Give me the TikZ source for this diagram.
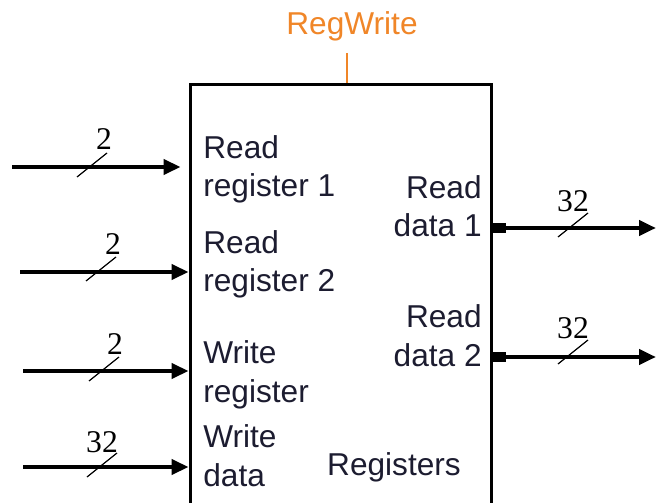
\documentclass[tikz,border=0pt]{standalone}
\usepackage{fontspec}
\setmainfont{Liberation Sans}
\newfontfamily\numfont{Liberation Serif}
\usetikzlibrary{arrows.meta}

\definecolor{regorange}{RGB}{240,134,40}
\definecolor{regtext}{RGB}{28,28,48}

\tikzset{
  bus/.style={line width=2.6pt, -{Triangle[length=0.34cm,width=0.3cm]}},
  outbus/.style={line width=2.6pt, {Rectangle[length=0.26cm,width=0.22cm]}-{Triangle[length=0.34cm,width=0.3cm]}},
  slash/.style={line width=0.7pt},
  buswidth/.style={font=\numfont\fontsize{18}{20}\selectfont, anchor=base, inner sep=0pt},
  port/.style={font=\fontsize{18}{22}\selectfont, text=regtext, inner sep=0pt},
}

\begin{document}
\begin{tikzpicture}[x=0.02cm, y=-0.02cm]
    \useasboundingbox (0,0) rectangle (656,503);

    % Register file (bottom edge runs off the page)
    \node[draw, line width=1.7pt, minimum width=6.04cm, minimum height=9.5cm, inner sep=0pt] (regfile) at (341,322) {};

    % Control signal
    \node[font=\fontsize{18}{22}\selectfont, text=regorange, anchor=base, inner sep=0pt] (regwrite) at (352,35) {RegWrite};
    \coordinate (ctl) at (347,53);
    \draw[regorange, line width=1.2pt] (ctl) -- (ctl |- regfile.north);

    % Port labels on the left side (anchored at the last line)
    \node[port, anchor=base west, align=left] (rr1) at (203,197) {Read\\register 1};
    \node[port, anchor=base west, align=left] (rr2) at (203,292) {Read\\register 2};
    \node[port, anchor=base west, align=left] (wr) at (203,402) {Write\\register};
    \node[port, anchor=base west, align=left] (wd) at (203,486) {Write\\data};

    % Port labels on the right side
    \node[port, anchor=base east, align=right] (rd1) at (482,237) {Read\\data 1};
    \node[port, anchor=base east, align=right] (rd2) at (482,366) {Read\\data 2};
    \node[port, anchor=base] (name) at (394,475) {Registers};

    % Input buses
    \coordinate (in1) at (12,167);
    \coordinate (in2) at (20,272);
    \coordinate (in3) at (23,371);
    \coordinate (in4) at (23,467);
    \draw[bus, shorten >=0.16cm] (in1) -- (in1 -| regfile.west);
    \draw[bus] (in2) -- (in2 -| regfile.west);
    \draw[bus] (in3) -- (in3 -| regfile.west);
    \draw[bus] (in4) -- (in4 -| regfile.west);

    % Output buses
    \coordinate (out1) at (656,228);
    \coordinate (out2) at (656,357);
    \draw[outbus] (regfile.east |- out1) -- (out1);
    \draw[outbus] (regfile.east |- out2) -- (out2);

    % Bus width marks
    \draw[slash] (92,165) ++(-15,12) -- ++(30,-24);
    \node[buswidth] (w1) at (104,150) {2};
    \draw[slash] (101,269) ++(-15,12) -- ++(30,-24);
    \node[buswidth] (w2) at (113,255) {2};
    \draw[slash] (104,369) ++(-15,12) -- ++(30,-24);
    \node[buswidth] (w3) at (115,355) {2};
    \draw[slash] (102,465) ++(-15,12) -- ++(30,-24);
    \node[buswidth] (w4) at (102,452) {32};
    \draw[slash] (573,225) ++(-15,12) -- ++(30,-24);
    \node[buswidth] (w5) at (573,212) {32};
    \draw[slash] (573,352) ++(-15,12) -- ++(30,-24);
    \node[buswidth] (w6) at (573,338) {32};
\end{tikzpicture}
\end{document}
